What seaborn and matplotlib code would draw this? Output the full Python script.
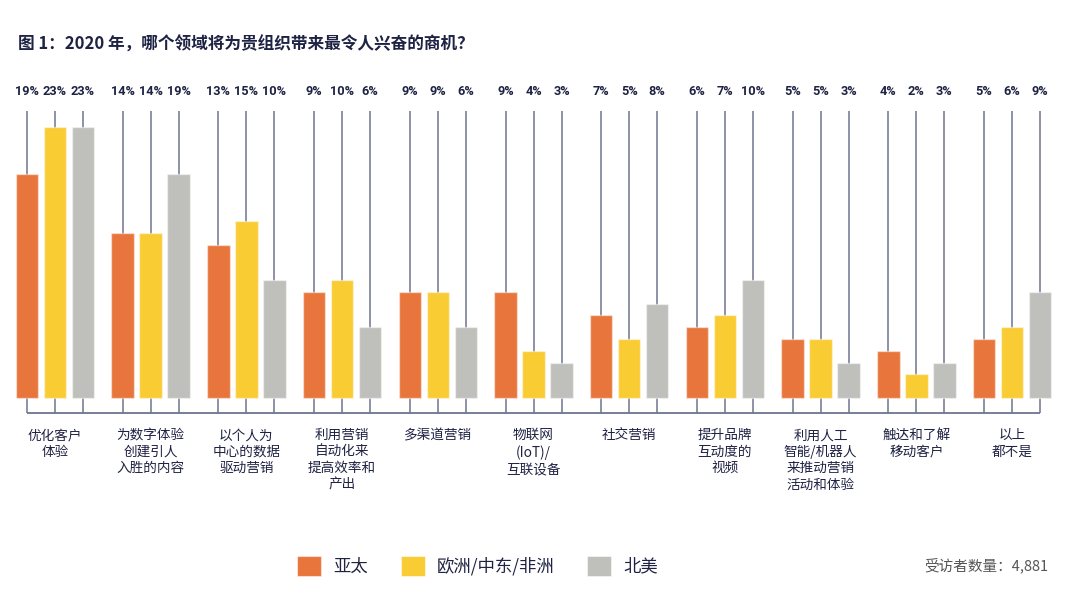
import matplotlib
matplotlib.use("Agg")
import matplotlib.pyplot as plt
import matplotlib.transforms as mtransforms
from matplotlib.patches import Patch
import seaborn as sns
import pandas as pd

categories = [
    "优化客户\n体验",
    "为数字体验\n创建引人\n入胜的内容",
    "以个人为\n中心的数据\n驱动营销",
    "利用营销\n自动化来\n提高效率和\n产出",
    "多渠道营销",
    "物联网\n(IoT)/\n互联设备",
    "社交营销",
    "提升品牌\n互动度的\n视频",
    "利用人工\n智能/机器人\n来推动营销\n活动和体验",
    "触达和了解\n移动客户",
    "以上\n都不是",
]
regions = ["亚太", "欧洲/中东/非洲", "北美"]
apac = [19, 14, 13, 9, 9, 9, 7, 6, 5, 4, 5]
emea = [23, 14, 15, 10, 9, 4, 5, 7, 5, 2, 6]
north_america = [23, 19, 10, 6, 6, 3, 8, 10, 3, 3, 9]
colors = ["#E8763C", "#F9CC33", "#BFC0BB"]

title = "图 1：2020 年，哪个领域将为贵组织带来最令人兴奋的商机？"
note = "受访者数量：4,881"

NAVY = "#1E2243"
LINE = "#6E7490"

sns.set_theme(style="white")
plt.rcParams["font.family"] = ["Noto Sans CJK SC", "DejaVu Sans"]

df = pd.DataFrame({
    "cat": categories * 3,
    "region": [regions[0]] * 11 + [regions[1]] * 11 + [regions[2]] * 11,
    "val": apac + emea + north_america,
})

fig = plt.figure(figsize=(10.8, 6.05), dpi=100)
ax = fig.add_axes([10 / 1080, 1 - 413 / 605, 1050 / 1080, 302 / 605])

sns.barplot(data=df, x="cat", y="val", hue="region", hue_order=regions,
            order=categories, palette=colors, saturation=1, width=0.878,
            gap=0.2, edgecolor=(1, 1, 1, 0.45), linewidth=1.0, legend=False,
            ax=ax, zorder=3, err_kws={"linewidth": 0})

ax.set_xlim(-0.470, 10.501)
ax.set_ylim(-1.27, 24.32)

centers = []
trans = mtransforms.blended_transform_factory(ax.transData, ax.transAxes)
for container, vals in zip(ax.containers, [apac, emea, north_america]):
    for bar, v in zip(container, vals):
        cx = bar.get_x() + bar.get_width() / 2
        centers.append(cx)
        ax.text(cx, 1 + 20 / 302, f"{v}%", transform=trans, ha="center",
                va="center", fontsize=9.2, fontweight="bold", color=NAVY,
                family=["Roboto", "DejaVu Sans"])

ax.vlines(centers, -1.27, 24.32, colors=LINE, linewidth=1.1, zorder=1,
          clip_on=False)
ax.hlines(-1.27, min(centers), max(centers), colors=LINE, linewidth=1.3,
          zorder=1, clip_on=False)

for s in ax.spines.values():
    s.set_visible(False)
ax.set_yticks([])
ax.set_xlabel("")
ax.set_ylabel("")
ax.set_xticks(range(len(categories)))
ax.set_xticklabels(categories, fontsize=9.8, color=NAVY, linespacing=1.22)
ax.tick_params(axis="x", length=0, pad=11)

fig.text(18 / 1080, 1 - 45 / 605, title, fontsize=12, fontweight="black",
         color=NAVY, ha="left", va="center")

handles = [Patch(facecolor=c, edgecolor=(1, 1, 1, 0.5), linewidth=0.8)
           for c in colors]
fig.legend(handles, regions, loc="center left",
           bbox_to_anchor=(297 / 1080, 1 - 566 / 605), ncol=3, frameon=False,
           fontsize=12.5, handlelength=1.38, handleheight=1.44,
           handletextpad=0.69, columnspacing=1.9, borderpad=0,
           borderaxespad=0, labelcolor=NAVY)

fig.text(1048 / 1080, 1 - 565 / 605, note, fontsize=10.5, style="italic",
         color="#555555", ha="right", va="center")

fig.savefig("out.png", dpi=100)
